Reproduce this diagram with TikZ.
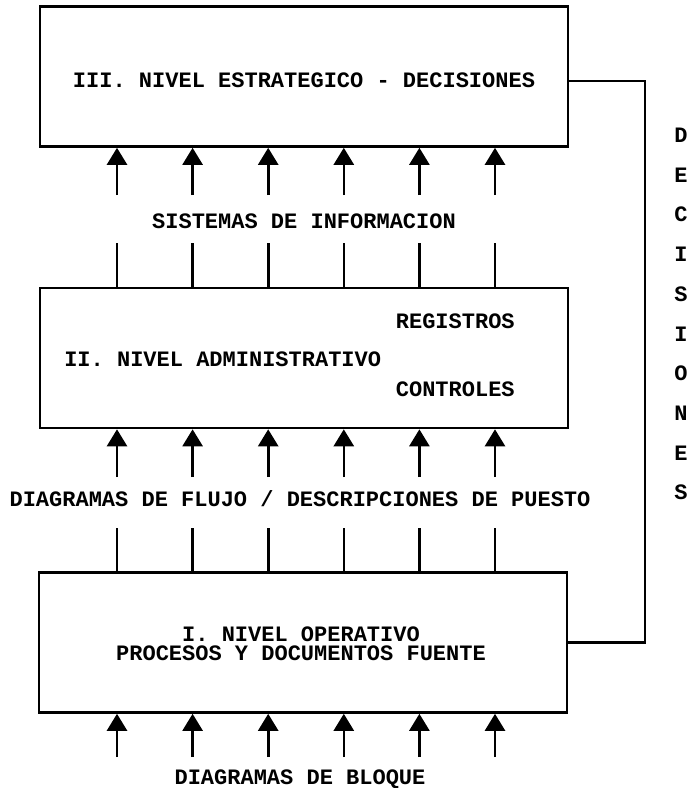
\documentclass[tikz,border=0pt]{standalone}
\usepackage{fontspec}
\setmonofont{Liberation Mono}
\usetikzlibrary{arrows.meta,calc}

\begin{document}
\begin{tikzpicture}[x=0.5pt, y=-0.5pt, >={Triangle[width=10pt,length=8.5pt]}, line width=1.3pt]
        \tikzset{nivel/.style={draw, line width=1.3pt, inner sep=0pt, minimum width=264pt, minimum height=70pt},
                 rotulo/.style={font=\ttfamily\bfseries\fontsize{11}{13}\selectfont, inner sep=0pt, text height=6.5pt, text depth=0pt}}
        \useasboundingbox (0,0) rectangle (690,788);
        \node[nivel] (estrategico) at (304,76.5) {};
        \node[nivel] (administrativo) at (304,358) {};
        \node[nivel] (operativo) at (303,642.5) {};
        \node[rotulo] (t3) at (304,81) {III. NIVEL ESTRATEGICO - DECISIONES};
        \node[rotulo] (sistemas) at (304,222) {SISTEMAS DE INFORMACION};
        \node[rotulo, anchor=east] (registros) at (516,322) {REGISTROS};
        \node[rotulo, anchor=west] (t2) at (63,360) {II. NIVEL ADMINISTRATIVO};
        \node[rotulo, anchor=east] (controles) at (516,390) {CONTROLES};
        \node[rotulo] (flujo) at (300,500) {DIAGRAMAS DE FLUJO / DESCRIPCIONES DE PUESTO};
        \node[rotulo] (t1) at (301,635) {I. NIVEL OPERATIVO};
        \node[rotulo] (procesos) at (301,654) {PROCESOS Y DOCUMENTOS FUENTE};
        \node[rotulo] (bloque) at (300,778) {DIAGRAMAS DE BLOQUE};
        \foreach \l [count=\k from 0] in {D,E,C,I,S,I,O,N,E,S}
            \node[rotulo] (dec\k) at (681,136+39.7*\k) {\l};
        \coordinate (ret) at (645,360);
        \draw (t3 -| estrategico.east) -- (t3 -| ret) -- (operativo.east -| ret) -- (operativo.east);
        \foreach \i in {0,...,5} {
            \coordinate (a\i) at (117+75.6*\i,195);
            \coordinate (b\i) at (117+75.6*\i,243);
            \coordinate (c\i) at (117+75.6*\i,477);
            \coordinate (e\i) at (117+75.6*\i,528);
            \coordinate (f\i) at (117+75.6*\i,757);
            \draw[->] (a\i) -- (a\i |- estrategico.south);
            \draw (b\i) -- (b\i |- administrativo.north);
            \draw[->] (c\i) -- (c\i |- administrativo.south);
            \draw (e\i) -- (e\i |- operativo.north);
            \draw[->] (f\i) -- (f\i |- operativo.south);
        }
    \end{tikzpicture}
\end{document}
